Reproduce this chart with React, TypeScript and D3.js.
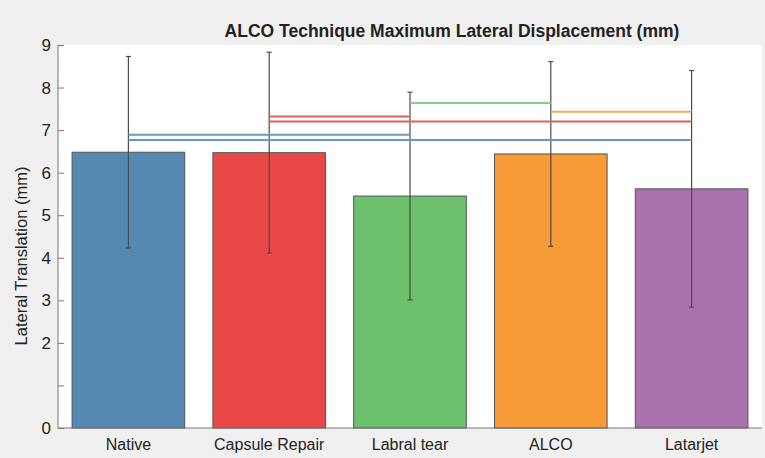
import React, { useEffect, useRef } from 'react';
import * as d3 from 'd3';

const WIDTH = 765;
const HEIGHT = 458;
const PLOT = { left: 58, right: 762, top: 45, bottom: 428 };

const categories = ['Native', 'Capsule Repair', 'Labral tear', 'ALCO', 'Latarjet'];
const means = [6.48, 6.47, 5.45, 6.44, 5.62];
const errors = [2.25, 2.36, 2.44, 2.17, 2.78];
const barColors = ['#5589b4', '#e84848', '#6dc16d', '#f69b37', '#a972ae'];

const yTicks = [0, 1, 2, 3, 4, 5, 6, 7, 8, 9];
const yTickLabels = ['0', '', '2', '3', '4', '5', '6', '7', '8', '9'];

// comparison lines: from bar, to bar, height
const sigFrom = [0, 0, 1, 1, 2, 3];
const sigTo = [2, 4, 2, 4, 3, 4];
const sigLevel = [6.89, 6.77, 7.32, 7.2, 7.64, 7.43];
const sigColors = ['#6a98c6', '#6a98c6', '#ec5a5a', '#e06060', '#8ccb86', '#f5aa5e'];

const FONT = '"Liberation Sans", Arial, Helvetica, sans-serif';

export default function App() {
  const ref = useRef<SVGSVGElement>(null);

  useEffect(() => {
    const svg = d3.select(ref.current);
    svg.selectAll('*').remove();

    const x = d3.scaleBand<string>()
      .domain(categories)
      .range([PLOT.left, PLOT.right])
      .paddingInner(0.2)
      .paddingOuter(0.1);
    const y = d3.scaleLinear().domain([0, 9]).range([PLOT.bottom, PLOT.top]);
    const cx = (i: number) => (x(categories[i]) as number) + x.bandwidth() / 2;

    svg.append('rect').attr('width', WIDTH).attr('height', HEIGHT).attr('fill', '#f0f0f0');
    svg.append('rect')
      .attr('x', PLOT.left).attr('y', PLOT.top)
      .attr('width', PLOT.right - PLOT.left).attr('height', PLOT.bottom - PLOT.top)
      .attr('fill', '#ffffff');

    // bars
    svg.selectAll('rect.bar')
      .data(means)
      .enter().append('rect')
      .attr('class', 'bar')
      .attr('x', (_, i) => x(categories[i]) as number)
      .attr('y', d => y(d))
      .attr('width', x.bandwidth())
      .attr('height', d => y(0) - y(d))
      .attr('fill', (_, i) => barColors[i])
      .attr('stroke', '#555')
      .attr('stroke-width', 1);

    // error bars
    const eb = svg.append('g').attr('stroke', '#4a4a4a').attr('stroke-width', 1.2);
    means.forEach((m, i) => {
      const c = cx(i);
      eb.append('line').attr('x1', c).attr('x2', c).attr('y1', y(m - errors[i])).attr('y2', y(m + errors[i]));
      [m - errors[i], m + errors[i]].forEach(v => {
        eb.append('line').attr('x1', c - 2.5).attr('x2', c + 2.5).attr('y1', y(v)).attr('y2', y(v));
      });
    });

    // comparison lines
    sigLevel.forEach((lv, k) => {
      svg.append('line')
        .attr('x1', cx(sigFrom[k])).attr('x2', cx(sigTo[k]))
        .attr('y1', y(lv)).attr('y2', y(lv))
        .attr('stroke', sigColors[k]).attr('stroke-width', 2);
    });

    // y axis
    const yAxis = d3.axisLeft(y)
      .tickValues(yTicks)
      .tickSize(-6)
      .tickPadding(7)
      .tickFormat((_, i) => yTickLabels[i]);
    const yg = svg.append('g').attr('transform', `translate(${PLOT.left},0)`).call(yAxis);
    yg.select('.domain').attr('stroke', '#777').attr('d', `M0,${PLOT.top}V${PLOT.bottom}`);
    yg.selectAll('.tick line').attr('stroke', '#777');
    yg.selectAll('.tick text').attr('fill', '#222').style('font-family', FONT).style('font-size', '17px');

    // x axis
    const xAxis = d3.axisBottom(x).tickSize(0).tickPadding(11);
    const xg = svg.append('g').attr('transform', `translate(0,${PLOT.bottom})`).call(xAxis);
    xg.select('.domain').attr('stroke', '#777').attr('d', `M${PLOT.left},0H${PLOT.right}`);
    xg.selectAll('.tick text').attr('fill', '#222').style('font-family', FONT).style('font-size', '16px');

    // labels
    svg.append('text')
      .attr('transform', `translate(27,256) rotate(-90)`)
      .attr('text-anchor', 'middle')
      .style('font-family', FONT).style('font-size', '16.5px')
      .attr('fill', '#222')
      .text('Lateral Translation (mm)');

    svg.append('text')
      .attr('x', 452).attr('y', 37)
      .attr('text-anchor', 'middle')
      .style('font-family', FONT).style('font-size', '17.5px').style('font-weight', 'bold')
      .attr('fill', '#222')
      .text('ALCO Technique Maximum Lateral Displacement (mm)');
  }, []);

  return (
    <div style={{ position: 'absolute', left: 0, top: 0 }}>
      <svg ref={ref} width={WIDTH} height={HEIGHT} style={{ display: 'block' }} />
    </div>
  );
}
